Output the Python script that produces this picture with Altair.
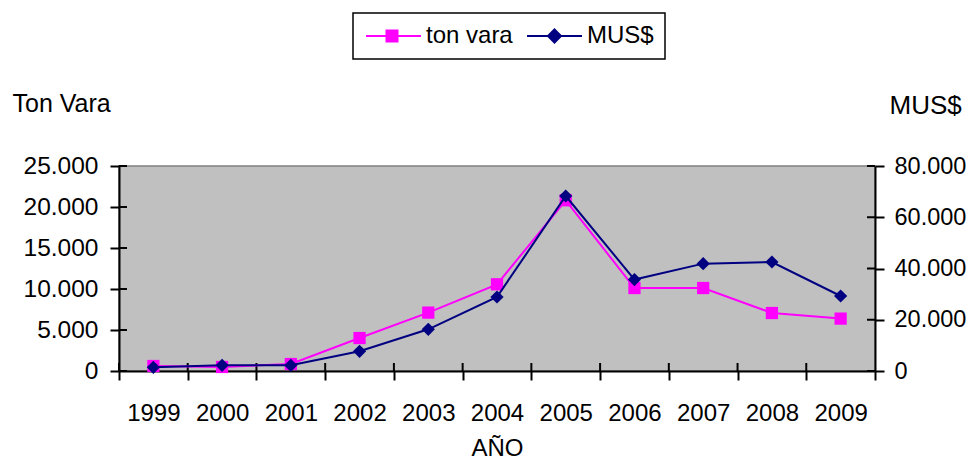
import altair as alt
import pandas as pd

years = ["1999", "2000", "2001", "2002", "2003", "2004", "2005", "2006", "2007", "2008", "2009"]
ton_vara = [610, 490, 850, 4020, 7120, 10570, 20820, 10120, 10120, 7070, 6390]
mus = [1440, 2220, 2220, 7690, 16270, 28880, 68290, 35670, 41900, 42540, 29270]
series_names = ["ton vara", "MUS$"]
series_colors = ["#FF00FF", "#000080"]
left_ticks = [0, 5000, 10000, 15000, 20000, 25000]
right_ticks = [0, 20000, 40000, 60000, 80000]

FONT = "Liberation Sans"
W, H = 756, 205

df = pd.DataFrame({"year": years, "ton": ton_vara, "mus": mus})
legend_df = pd.DataFrame({"year": [years[0], years[0]], "series": series_names})
lt_df = pd.DataFrame({"ton": left_ticks})
rt_df = pd.DataFrame({"mus": right_ticks})
yr_df = pd.DataFrame({"year": years})

fmt = "replace(format(datum.value, ','), ',', '.')"
x_scale = alt.Scale(type="band", paddingInner=0, paddingOuter=0, domain=years)

x_axis = alt.Axis(
    title="AÑO", titleFontSize=24, titleFont=FONT, titleFontWeight="normal",
    titleY=84, titleBaseline="alphabetic", titleColor="black",
    labelAngle=0, labelFontSize=24, labelFont=FONT, labelColor="black",
    labelPadding=21, tickSize=9, tickWidth=2, tickColor="black", tickBand="extent",
    domainColor="black", domainWidth=2, grid=False,
)
x_enc = alt.X("year:N", scale=x_scale, axis=x_axis)

left_axis = alt.Axis(
    title="Ton Vara", titleAngle=0, titleX=-107, titleY=-63, titleAlign="left",
    titleBaseline="middle", titleFontSize=25, titleFont=FONT, titleFontWeight="normal",
    titleColor="black",
    values=left_ticks, labelExpr=fmt, labelFontSize=24.5, labelFont=FONT,
    labelColor="black", labelPadding=12, tickSize=9, tickWidth=2, tickColor="black",
    domainColor="black", domainWidth=2, grid=False,
)
right_axis = alt.Axis(
    title="MUS$", titleAngle=0, titleX=14, titleY=-61, titleAlign="left",
    titleBaseline="middle", titleFontSize=26, titleFont=FONT, titleFontWeight="normal",
    titleColor="black", orient="right",
    values=right_ticks, labelExpr=fmt, labelFontSize=23.5, labelFont=FONT,
    labelColor="black", labelPadding=10, tickSize=9, tickWidth=2, tickColor="black",
    domainColor="black", domainWidth=2, grid=False,
)

left_scale = alt.Scale(domain=[0, 25000], nice=False)
right_scale = alt.Scale(domain=[0, 80000], nice=False)
y_left = alt.Y("ton:Q", scale=left_scale, axis=left_axis)
y_right = alt.Y("mus:Q", scale=right_scale, axis=right_axis)

base = alt.Chart(df)

line_ton = base.mark_line(color=series_colors[0], strokeWidth=2).encode(x=x_enc, y=y_left)
pts_ton = base.mark_point(shape="square", filled=True, size=150, opacity=1,
                          color=series_colors[0]).encode(x=x_enc, y=y_left)

# legend symbols: a line with the marker in it (units of 10 px)
paths = [
    "M-1,0H4.5M1.05,-0.55H2.15V0.55H1.05Z",
    "M-1,0H4.5M1.75,-0.65L2.4,0L1.75,0.65L1.1,0Z",
]
leg = alt.Legend(title=None, orient="none", legendX=234, legendY=-153,
                 direction="horizontal", symbolOpacity=1)
legend_layer = alt.Chart(legend_df).mark_point(filled=True, opacity=0, strokeWidth=2).encode(
    x=x_enc,
    y=alt.value(0),
    fill=alt.Fill("series:N", scale=alt.Scale(domain=series_names, range=series_colors), legend=leg),
    stroke=alt.Stroke("series:N", scale=alt.Scale(domain=series_names, range=series_colors), legend=leg),
    shape=alt.Shape("series:N", scale=alt.Scale(domain=series_names, range=paths), legend=leg),
)

# inner halves of the axis ticks (ticks cross the axis lines)
ltick = alt.Chart(lt_df).mark_rule(color="black", strokeWidth=2).encode(
    y=y_left, x=alt.value(0), x2=alt.value(8)
)
xtick = alt.Chart(yr_df).mark_rule(color="black", strokeWidth=2).encode(
    x=alt.X("year:N", scale=x_scale, bandPosition=0, axis=x_axis),
    y=alt.value(H - 8), y2=alt.value(H),
)
rtick = alt.Chart(rt_df).mark_rule(color="black", strokeWidth=2).encode(
    y=y_right, x=alt.value(W - 8), x2=alt.value(W)
)

line_mus = base.mark_line(color=series_colors[1], strokeWidth=2).encode(x=x_enc, y=y_right)
pts_mus = base.mark_point(shape="diamond", filled=True, size=175, opacity=1,
                          color=series_colors[1]).encode(x=x_enc, y=y_right)

left = alt.layer(ltick, xtick, line_ton, pts_ton, legend_layer)
right = alt.layer(rtick, line_mus, pts_mus)

chart = (
    alt.layer(left, right)
    .resolve_scale(y="independent")
    .properties(
        width=W, height=H,
        autosize=alt.AutoSizeParams(type="none"),
        padding={"left": 111, "top": 158, "right": 94, "bottom": 89},
        background="white",
    )
    .configure_view(fill="#C0C0C0", stroke="#808080", strokeWidth=1.5)
    .configure_legend(
        strokeColor="black", strokeWidth=1.5, fillColor="white",
        padding=11, symbolSize=400, symbolStrokeWidth=2,
        labelFontSize=24, labelFont=FONT, labelColor="black",
        labelOffset=38, columnPadding=10,
    )
)

chart.save("out.html", embed_options={"renderer": "svg", "actions": False})
